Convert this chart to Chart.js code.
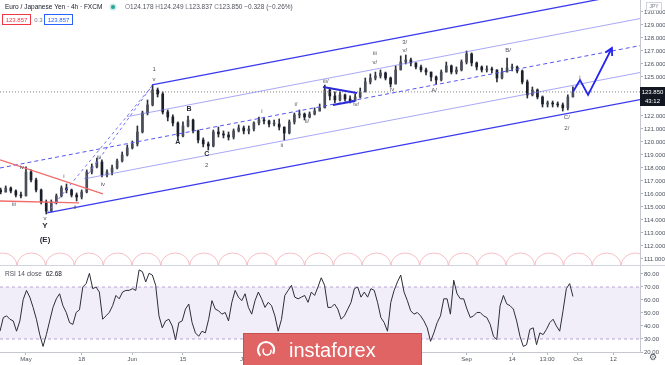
<!DOCTYPE html>
<html>
<head>
<meta charset="utf-8">
<title>EUR/JPY 4h</title>
<script src="https://cdn.jsdelivr.net/npm/chart.js@4.4.1/dist/chart.umd.min.js"></script>
<style>
  html, body { margin: 0; padding: 0; background: #fff; }
  body { width: 665px; height: 365px; position: relative; overflow: hidden; }
  canvas { position: absolute; left: 0; }
  #priceChart { top: 0; }
  #rsiChart { top: 266px; }
</style>
</head>
<body>
<canvas id="priceChart" width="665" height="266"></canvas>
<canvas id="rsiChart" width="665" height="99"></canvas>
<script>
// x values are trading days, 0 = 1 May 2020, one candle per day
const firstDay = -5;
const firstOpen = 116.30;
const closes = [
  116.15, 116.46, 116.23, 115.92, 115.85, 117.69, 117.08, 116.31, 115.38, 114.69,
  115.38, 115.85, 116.46, 116.31, 115.92, 115.77, 116.15, 117.69, 118.08, 118.46,
  117.46, 117.69, 118.00, 118.54, 119.00, 119.54, 119.85, 120.77, 122.23, 122.85,
  124.00, 123.69, 122.31, 121.92, 121.46, 120.46, 121.23, 121.69, 120.85, 120.15,
  119.85, 119.69, 120.77, 120.62, 120.54, 120.38, 120.85, 121.08, 120.85, 121.00,
  121.46, 121.69, 121.62, 121.38, 121.38, 121.15, 120.69, 121.54, 122.08, 122.15,
  121.92, 122.15, 122.38, 122.62, 124.00, 123.54, 123.23, 123.62, 123.31, 123.15,
  123.46, 123.85, 124.62, 124.92, 125.08, 125.31, 124.92, 124.46, 125.54, 126.15,
  126.31, 126.08, 125.77, 125.54, 125.38, 125.00, 124.77, 125.38, 125.85, 125.38,
  125.54, 126.15, 126.77, 126.08, 125.77, 125.54, 125.62, 125.54, 124.92, 125.38,
  125.69, 125.77, 125.46, 124.62, 123.62, 124.00, 123.46, 122.92, 123.00, 122.92,
  122.85, 122.62, 123.46, 123.85
];
const highs = [
  116.46, 116.62, 116.54, 116.31, 116.15, 118.08, 117.85, 117.23, 116.38, 115.54,
  115.54, 116.00, 116.62, 116.77, 116.38, 116.08, 116.31, 117.85, 118.31, 118.77,
  118.62, 117.85, 118.23, 118.69, 119.23, 119.77, 120.08, 121.23, 122.38, 123.23,
  124.38, 124.15, 123.85, 122.46, 122.08, 121.54, 121.54, 122.00, 121.77, 120.92,
  120.31, 120.00, 120.92, 121.15, 120.85, 120.77, 121.00, 121.31, 121.23, 121.23,
  121.54, 121.92, 121.85, 121.69, 121.69, 121.77, 121.15, 121.69, 122.23, 122.46,
  122.23, 122.31, 122.62, 122.92, 124.38, 124.15, 123.85, 123.85, 123.69, 123.54,
  123.69, 124.15, 124.92, 125.23, 125.38, 125.54, 125.38, 125.00, 125.85, 126.62,
  126.69, 126.46, 126.08, 125.92, 125.69, 125.38, 125.08, 125.54, 126.15, 125.92,
  125.77, 126.31, 127.00, 126.85, 126.15, 125.85, 125.85, 125.77, 125.54, 125.69,
  126.46, 126.00, 125.85, 125.54, 124.77, 124.23, 124.08, 123.54, 123.15, 123.15,
  123.08, 123.00, 123.62, 124.25
];
const lows = [
  116.00, 116.15, 116.08, 115.77, 115.69, 115.85, 116.92, 116.15, 115.23, 114.46,
  114.62, 115.23, 115.77, 116.08, 115.77, 115.46, 115.62, 116.08, 117.54, 118.00,
  117.31, 117.31, 117.46, 117.92, 118.46, 118.92, 119.46, 119.69, 120.69, 122.08,
  122.77, 123.46, 122.15, 121.62, 121.23, 120.15, 120.38, 121.15, 120.69, 119.92,
  119.62, 119.38, 119.62, 120.38, 120.31, 120.15, 120.23, 120.77, 120.62, 120.62,
  120.85, 121.31, 121.38, 121.15, 121.23, 120.92, 120.15, 120.62, 121.38, 121.85,
  121.69, 121.85, 122.08, 122.38, 122.62, 123.23, 123.00, 123.15, 123.15, 123.00,
  123.23, 123.38, 123.85, 124.46, 124.77, 124.92, 124.77, 124.23, 124.46, 125.54,
  126.00, 125.85, 125.62, 125.38, 125.15, 124.69, 124.46, 124.69, 125.38, 125.23,
  125.23, 125.46, 126.00, 125.85, 125.54, 125.38, 125.38, 125.31, 124.62, 124.85,
  125.38, 125.46, 125.31, 124.46, 123.38, 123.54, 123.31, 122.69, 122.69, 122.69,
  122.69, 122.38, 122.46, 123.46
];
const lastPrice = 123.850;

// RSI(14) sampled roughly every 2/3 of a day
const rsiStart = -5.13;
const rsiStep = 0.654;
const rsiValues = [
  36.0, 46.5, 47.8, 45.2, 43.9, 36.0, 43.9, 60.3, 67.4, 62.2,
  54.3, 45.2, 33.4, 24.3, 33.4, 43.9, 54.3, 60.9, 64.8, 55.6,
  50.4, 42.6, 41.2, 50.4, 52.5, 70.0, 72.6, 80.5, 68.7, 70.0,
  66.1, 45.2, 47.8, 50.4, 55.6, 63.5, 60.9, 66.1, 67.4, 67.4,
  68.7, 67.4, 83.1, 81.8, 73.9, 80.5, 79.2, 71.3, 47.8, 38.6,
  43.9, 45.2, 40.0, 29.5, 42.6, 43.9, 53.0, 56.9, 42.6, 34.7,
  32.1, 36.0, 34.7, 45.2, 59.5, 53.0, 51.7, 49.1, 50.4, 43.9,
  58.2, 67.4, 62.2, 59.5, 64.8, 54.3, 49.1, 59.5, 66.1, 60.9,
  54.3, 58.2, 55.6, 47.8, 36.0, 45.2, 63.5, 67.4, 71.3, 62.2,
  60.9, 62.2, 63.5, 58.2, 66.1, 63.5, 70.0, 77.1, 71.3, 54.3,
  54.3, 56.9, 53.0, 45.2, 47.8, 53.0, 58.2, 68.7, 70.0, 62.2,
  66.1, 62.2, 68.7, 67.4, 58.2, 46.5, 42.6, 36.0, 58.2, 67.4,
  73.9, 79.2, 66.1, 59.5, 51.7, 49.1, 50.4, 47.8, 43.9, 38.6,
  28.2, 34.7, 42.6, 47.8, 60.9, 60.9, 49.1, 75.2, 64.8, 60.9,
  60.9, 53.0, 46.5, 47.8, 50.4, 50.4, 47.8, 46.5, 41.3, 32.1,
  29.5, 55.6, 63.5, 57.0, 55.6, 53.0, 43.9, 32.1, 24.3, 25.6,
  37.4, 38.6, 25.6, 34.7, 33.4, 37.4, 42.6, 45.2, 40.0, 36.0,
  51.7, 68.7, 72.6, 62.68
];

const priceTicks = [111, 112, 113, 114, 115, 116, 117, 118, 119, 120, 121, 122, 125, 126, 127, 128, 129, 130];
const rsiTicks = [20, 30, 40, 50, 60, 70, 80];
const timeTickDays = [0, 11, 21, 31, 43, 52, 66, 76, 87, 96, 102.9, 109, 116];
const timeTickLabels = ['May', '18', 'Jun', '15', 'Jul', '13', 'Aug', '17', 'Sep', '14', '13:00', 'Oct', '12'];

const viewStart = -5.13, viewEnd = 121.25;
const priceMin = 110.46, priceMax = 130.92;

// drawings, as [day, price]
const channelLower = [[4.15, 114.54], [121.25, 123.26]];
const channelQ1 = [[11.6, 117.17], [121.25, 125.34]];
const channelMid = [[-5.13, 118.0], [121.25, 127.41]];
const channelQ3 = [[19.9, 121.94], [121.25, 129.49]];
const channelUpper = [[24.88, 124.39], [121.25, 131.57]];
const impulseRay1 = [[4.15, 114.54], [24.88, 124.31]];
const impulseRay2 = [[11.6, 117.17], [24.88, 124.31]];
const wedgeUpper = [[-5.13, 118.62], [15.2, 116.0]];
const wedgeLower = [[-5.13, 115.46], [10.47, 115.31]];
const triangleUpper = [[58.65, 124.23], [65.36, 123.77]];
const triangleLower = [[60.62, 122.85], [64.97, 123.15]];
const projection = [[108, 123.85], [109.4, 124.77], [111, 123.62], [115.7, 127.23]];

const minorLabels = [
  ['iii', -2.4, 115.23], ['iv', -0.8, 118.08], ['v', 3.75, 114.15], ['i', 7.5, 117.38],
  ['ii', 9.7, 115.0], ['iii', 14.4, 118.85], ['iv', 15.2, 116.77], ['1', 25.3, 125.62],
  ['v', 25.3, 124.85], ['2', 35.7, 118.23], ['i', 46.6, 122.38], ['ii', 50.5, 119.77],
  ['i/', 53.3, 122.92], ['ii/', 55.5, 121.62], ['iii/', 59.2, 124.69], ['iv/', 65.2, 122.92],
  ['iii', 68.9, 126.85], ['v/', 68.9, 126.15], ['iv', 72.3, 124.08], ['3/', 74.8, 127.69],
  ['v/', 74.8, 127.08], ['A/', 80.6, 124.0], ['B/', 95.2, 127.08], ['C/', 106.8, 121.92],
  ['2/', 106.8, 121.08], ['i', 109.4, 125.0]
];
const majorLabels = [['Y', 3.75, 113.54], ['(E)', 3.75, 112.46], ['A', 30.0, 120.0], ['B', 32.2, 122.54], ['C', 35.7, 119.08]];

const cycleStart = -1.78, cycleLength = 5.68;

const FONT = '"Liberation Sans", Arial, sans-serif';
Chart.defaults.font.family = FONT;
Chart.defaults.animation = false;

const candleDays = closes.map((c, i) => firstDay + i);
const opens = closes.map((c, i) => i === 0 ? firstOpen : closes[i - 1]);
const wickData = candleDays.map((d, i) => ({x: d, y: [Math.min(lows[i], opens[i], closes[i]), Math.max(highs[i], opens[i], closes[i])]}));
const bodyData = candleDays.map((d, i) => ({x: d, y: [opens[i], closes[i]]}));
const bodyColors = closes.map((c, i) => c >= opens[i] ? '#4a4e59' : '#1b1f2a');

function seg(points, color, width, dash) {
  return {
    type: 'line',
    data: points.map(([d, p]) => ({x: d, y: p})),
    borderColor: color, borderWidth: width, borderDash: dash || [],
    pointRadius: 0, fill: false, tension: 0, order: 0
  };
}

function noPad(s) { s.paddingTop = 0; s.paddingBottom = 0; s.paddingLeft = 0; s.paddingRight = 0; }

const mainDecor = {
  id: 'mainDecor',
  afterDatasetsDraw(chart) {
    const {ctx, chartArea: a} = chart;
    const x = chart.scales.x, y = chart.scales.y;
    ctx.save();
    ctx.beginPath();
    ctx.rect(a.left, a.top, a.right - a.left, a.bottom - a.top);
    ctx.clip();

    // cycle arcs along the bottom
    ctx.strokeStyle = 'rgba(242,150,160,0.6)';
    ctx.lineWidth = 1;
    for (let d = cycleStart - cycleLength; d < viewEnd; d += cycleLength) {
      const x0 = x.getPixelForValue(d), x1 = x.getPixelForValue(d + cycleLength);
      ctx.beginPath();
      ctx.ellipse((x0 + x1) / 2, a.bottom, (x1 - x0) / 2, 13, 0, Math.PI, 2 * Math.PI);
      ctx.stroke();
    }

    // wave labels
    ctx.textAlign = 'center';
    ctx.textBaseline = 'middle';
    ctx.fillStyle = '#50535e';
    ctx.font = '6px ' + FONT;
    minorLabels.forEach(([t, d, p]) => ctx.fillText(t, x.getPixelForValue(d), y.getPixelForValue(p)));
    ctx.fillStyle = '#2a2e39';
    majorLabels.forEach(([t, d, p]) => {
      ctx.font = (t === 'Y' || t === '(E)' ? 'bold 8px ' : 'bold 7px ') + FONT;
      ctx.fillText(t, x.getPixelForValue(d), y.getPixelForValue(p));
    });

    // arrow head on the projection
    const n = projection.length;
    const xa = x.getPixelForValue(projection[n - 2][0]), ya = y.getPixelForValue(projection[n - 2][1]);
    const xb = x.getPixelForValue(projection[n - 1][0]), yb = y.getPixelForValue(projection[n - 1][1]);
    const ang = Math.atan2(yb - ya, xb - xa);
    ctx.strokeStyle = '#2424ee';
    ctx.lineWidth = 1.8;
    ctx.beginPath();
    ctx.moveTo(xb - 8 * Math.cos(ang - 0.5), yb - 8 * Math.sin(ang - 0.5));
    ctx.lineTo(xb, yb);
    ctx.lineTo(xb - 8 * Math.cos(ang + 0.5), yb - 8 * Math.sin(ang + 0.5));
    ctx.stroke();
    ctx.restore();
  },
  afterDraw(chart) {
    const {ctx} = chart;
    const y = chart.scales.y;
    ctx.save();
    ctx.textBaseline = 'middle';
    ctx.textAlign = 'left';

    // symbol header
    ctx.font = '6.5px ' + FONT;
    ctx.fillStyle = '#131722';
    ctx.fillText('Euro / Japanese Yen · 4h · FXCM', 5, 7);
    ctx.fillStyle = 'rgba(38,166,154,0.25)';
    ctx.beginPath(); ctx.arc(113, 7, 3.5, 0, 2 * Math.PI); ctx.fill();
    ctx.fillStyle = '#26a69a';
    ctx.beginPath(); ctx.arc(113, 7, 2, 0, 2 * Math.PI); ctx.fill();
    let tx = 125;
    [['O', '#787b86'], ['124.178', '#50535e'], [' H', '#787b86'], ['124.249', '#50535e'],
     [' L', '#787b86'], ['123.837', '#50535e'], [' C', '#787b86'], ['123.850', '#50535e'],
     [' \u22120.328 (\u22120.26%)', '#50535e']].forEach(([s, c]) => {
      ctx.fillStyle = c;
      ctx.fillText(s, tx, 7);
      tx += ctx.measureText(s).width;
    });

    // bid / ask boxes
    ctx.textAlign = 'center';
    ctx.font = '6px ' + FONT;
    ctx.strokeStyle = '#f23645'; ctx.lineWidth = 1;
    ctx.strokeRect(2.5, 14.5, 28, 10);
    ctx.fillStyle = '#f23645'; ctx.fillText('123.857', 16.5, 20);
    ctx.fillStyle = '#787b86'; ctx.fillText('0.3', 38.5, 20);
    ctx.strokeStyle = '#2962ff';
    ctx.strokeRect(44.5, 14.5, 28, 10);
    ctx.fillStyle = '#2962ff'; ctx.fillText('123.857', 58.5, 20);

    // currency tag
    ctx.strokeStyle = '#d1d4dc';
    ctx.strokeRect(646.5, 2.5, 15, 8);
    ctx.fillStyle = '#787b86'; ctx.font = '5px ' + FONT;
    ctx.fillText('JPY', 654, 6.7);

    // last price marker on the axis
    const py = Math.round(y.getPixelForValue(lastPrice));
    ctx.fillStyle = '#131722';
    ctx.fillRect(640, py - 5, 25, 10);
    ctx.fillRect(640, py + 5, 25, 9);
    ctx.fillStyle = '#ffffff'; ctx.font = '6px ' + FONT;
    ctx.fillText(lastPrice.toFixed(3), 652.5, py);
    ctx.fillText('43:12', 652.5, py + 9.5);

    // pane separator
    ctx.fillStyle = '#d1d4dc';
    ctx.fillRect(0, 265, 665, 1);
    ctx.restore();
  }
};

new Chart(document.getElementById('priceChart'), {
  type: 'bar',
  data: {
    datasets: [
      seg(projection, '#2424ee', 1.8),
      seg(triangleUpper, '#2b2bd8', 2),
      seg(triangleLower, '#2b2bd8', 2),
      seg(wedgeUpper, '#f26b6b', 1.3),
      seg(wedgeLower, '#f26b6b', 1.3),
      seg(impulseRay1, '#7474f2', 1, [3, 3]),
      seg(impulseRay2, '#7474f2', 1, [3, 3]),
      seg(channelUpper, '#3a3af0', 1.3),
      seg(channelQ3, 'rgba(110,110,240,0.6)', 1),
      seg(channelMid, '#5656f0', 1, [4, 3]),
      seg(channelQ1, 'rgba(110,110,240,0.6)', 1),
      seg(channelLower, '#3a3af0', 1.3),
      seg([[viewStart, lastPrice], [viewEnd, lastPrice]], '#808080', 1, [1, 2]),
      {
        type: 'bar', data: bodyData, grouped: false, barThickness: 2, minBarLength: 1,
        backgroundColor: bodyColors, borderWidth: 0, order: 4
      },
      {
        type: 'bar', data: wickData, grouped: false, barThickness: 1,
        backgroundColor: '#2a2e39', borderWidth: 0, order: 5
      }
    ]
  },
  options: {
    responsive: false,
    animation: false,
    events: [],
    layout: {padding: 0},
    plugins: {legend: {display: false}, tooltip: {enabled: false}},
    scales: {
      x: {type: 'linear', display: false, min: viewStart, max: viewEnd, offset: false},
      y: {
        position: 'right', min: priceMin, max: priceMax,
        afterFit(s) { s.width = 25; noPad(s); },
        afterBuildTicks(s) { s.ticks = priceTicks.map(v => ({value: v})); },
        ticks: {font: {size: 6}, color: '#4c525e', padding: 1, callback: v => v.toFixed(3)},
        grid: {drawOnChartArea: false, tickLength: 3, color: '#b2b5be'},
        border: {color: '#c5c8ce'}
      }
    }
  },
  plugins: [mainDecor]
});

const rsiDecor = {
  id: 'rsiDecor',
  afterDraw(chart) {
    const {ctx} = chart;
    ctx.save();
    ctx.textBaseline = 'middle';
    ctx.textAlign = 'left';
    ctx.font = '6.5px ' + FONT;
    ctx.fillStyle = '#50535e';
    ctx.fillText('RSI 14 close', 5, 8);
    const w = ctx.measureText('RSI 14 close ').width;
    ctx.fillStyle = '#131722';
    ctx.fillText('62.68', 5 + w + 2, 8);

    // settings gear
    ctx.textAlign = 'center';
    ctx.fillStyle = '#50535e';
    ctx.font = '9px "DejaVu Sans"';
    ctx.fillText('\u2699', 653, 92);

    // watermark
    ctx.fillStyle = '#e06464';
    ctx.fillRect(243, 67, 179, 34);
    ctx.strokeStyle = '#c95050'; ctx.lineWidth = 1;
    ctx.strokeRect(243.5, 67.5, 178, 34);
    ctx.strokeStyle = '#ffffff'; ctx.lineWidth = 2.2;
    ctx.beginPath(); ctx.arc(266, 84, 8, 0.75 * Math.PI, 2.15 * Math.PI); ctx.stroke();
    ctx.lineWidth = 1.6;
    ctx.beginPath(); ctx.arc(267, 85, 4, 1.9 * Math.PI, 3.2 * Math.PI); ctx.stroke();
    ctx.fillStyle = '#ffffff';
    ctx.textAlign = 'left';
    ctx.textBaseline = 'alphabetic';
    ctx.font = '20px ' + FONT;
    ctx.fillText('instaforex', 289, 91);
    ctx.restore();
  }
};

new Chart(document.getElementById('rsiChart'), {
  type: 'line',
  data: {
    datasets: [
      {
        data: rsiValues.map((v, i) => ({x: rsiStart + i * rsiStep, y: v})),
        borderColor: '#2a2e39', borderWidth: 1, pointRadius: 0, tension: 0, fill: false, order: 0
      },
      {
        data: [{x: viewStart, y: 70}, {x: viewEnd, y: 70}],
        borderColor: 'rgba(160,130,200,0.7)', borderWidth: 1, borderDash: [3, 3], pointRadius: 0,
        fill: '+1', backgroundColor: 'rgba(126,87,194,0.1)', order: 1
      },
      {
        data: [{x: viewStart, y: 30}, {x: viewEnd, y: 30}],
        borderColor: 'rgba(160,130,200,0.7)', borderWidth: 1, borderDash: [3, 3], pointRadius: 0,
        fill: false, order: 1
      }
    ]
  },
  options: {
    responsive: false,
    animation: false,
    events: [],
    layout: {padding: 0},
    plugins: {legend: {display: false}, tooltip: {enabled: false}},
    scales: {
      x: {
        type: 'linear', min: viewStart, max: viewEnd, offset: false,
        afterFit(s) { s.height = 13; noPad(s); },
        afterBuildTicks(s) { s.ticks = timeTickDays.map(v => ({value: v})); },
        ticks: {autoSkip: false, maxRotation: 0, font: {size: 6}, color: '#4c525e', padding: 1,
                callback: (v, i) => timeTickLabels[i]},
        grid: {drawOnChartArea: false, tickLength: 3, color: '#b2b5be'},
        border: {color: '#c5c8ce'}
      },
      y: {
        position: 'right', min: 20, max: 86.15,
        afterFit(s) { s.width = 25; noPad(s); },
        afterBuildTicks(s) { s.ticks = rsiTicks.map(v => ({value: v})); },
        ticks: {font: {size: 6}, color: '#4c525e', padding: 1, callback: v => v.toFixed(2)},
        grid: {drawOnChartArea: false, tickLength: 3, color: '#b2b5be'},
        border: {color: '#c5c8ce'}
      }
    }
  },
  plugins: [rsiDecor]
});
</script>
</body>
</html>
